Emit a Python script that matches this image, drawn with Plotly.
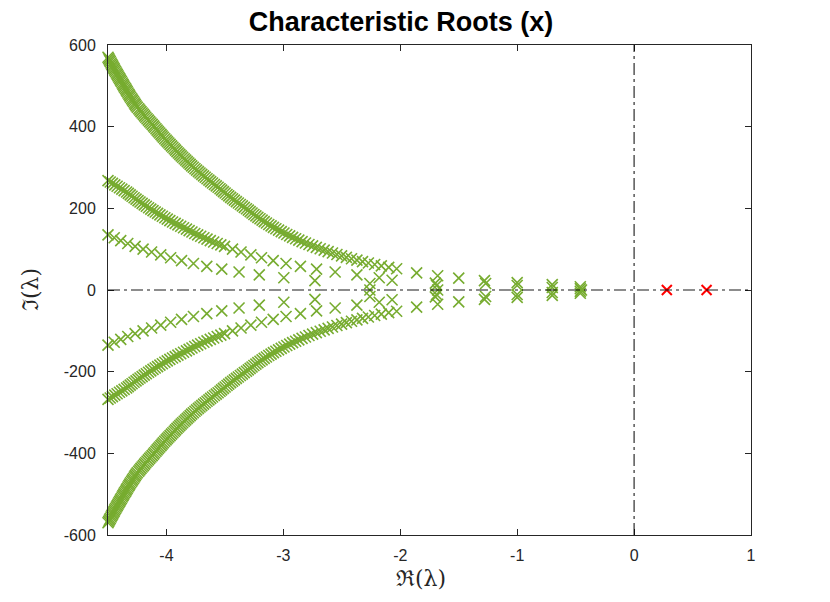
import plotly.graph_objects as go

# ---------------- data ----------------
# outer chain, upper half (real parts / imaginary parts)
outer_re_up = [-4.500, -4.494, -4.487, -4.481, -4.474, -4.468, -4.461, -4.455, -4.448, -4.442,
               -4.435, -4.428, -4.421, -4.414, -4.407, -4.400, -4.393, -4.386, -4.379, -4.372,
               -4.365, -4.358, -4.350, -4.343, -4.336, -4.329, -4.321, -4.314, -4.306, -4.298,
               -4.290, -4.282, -4.274, -4.267, -4.259, -4.249, -4.238, -4.228, -4.218, -4.208,
               -4.197, -4.187, -4.177, -4.166, -4.155, -4.144, -4.133, -4.122, -4.111, -4.101,
               -4.090, -4.080, -4.069, -4.058, -4.047, -4.037, -4.026, -4.015, -4.003, -3.992,
               -3.980, -3.969, -3.957, -3.945, -3.933, -3.922, -3.910, -3.898, -3.886, -3.874,
               -3.861, -3.848, -3.835, -3.822, -3.809, -3.797, -3.784, -3.770, -3.756, -3.742,
               -3.727, -3.713, -3.698, -3.683, -3.668, -3.653, -3.637, -3.622, -3.606, -3.590,
               -3.574, -3.558, -3.542, -3.528, -3.513, -3.498, -3.482, -3.467, -3.451, -3.435,
               -3.419, -3.402, -3.385, -3.368, -3.351, -3.334, -3.316, -3.300, -3.284, -3.268,
               -3.252, -3.235, -3.218, -3.200, -3.182, -3.164, -3.145, -3.125, -3.105, -3.085,
               -3.064, -3.041, -3.018, -2.995, -2.971, -2.946, -2.921, -2.895, -2.868, -2.840,
               -2.811, -2.781, -2.750, -2.718, -2.685, -2.651, -2.617, -2.580, -2.542, -2.502,
               -2.461, -2.417, -2.371, -2.323, -2.273, -2.219, -2.162, -2.099, -2.031,
               -1.86, -1.68, -1.50, -1.28, -1.00, -0.70, -0.46]
outer_im_up = [570, 566.5, 563, 559.5, 556, 552.5, 549, 545.5, 542, 538.5,
               535, 531.5, 528, 524.5, 521, 517.5, 514, 510.5, 507, 503.5,
               500, 496.5, 493, 489.5, 486, 482.5, 479, 475.5, 472, 468.5,
               465, 461.5, 458, 454.5, 451, 447.5, 444, 440.5, 437, 433.5,
               430, 426.5, 423, 419.5, 416, 412.5, 409, 405.5, 402, 398.5,
               395, 391.5, 388, 384.5, 381, 377.5, 374, 370.5, 367, 363.5,
               360, 356.5, 353, 349.5, 346, 342.5, 339, 335.5, 332, 328.5,
               325, 321.5, 318, 314.5, 311, 307.5, 304, 300.5, 297, 293.5,
               290, 286.5, 283, 279.5, 276, 272.5, 269, 265.5, 262, 258.5,
               255, 251.5, 248, 244.5, 241, 237.5, 234, 230.5, 227, 223.5,
               220, 216.5, 213, 209.5, 206, 202.5, 199, 195.5, 192, 188.5,
               185, 181.5, 178, 174.5, 171, 167.5, 164, 160.5, 157, 153.5,
               150, 146.5, 143, 139.5, 136, 132.5, 129, 125.5, 122, 118.5,
               115, 111.5, 108, 104.5, 101, 97.5, 94, 90.5, 87, 83.5,
               80, 76.5, 73, 69.5, 66, 62.5, 59, 55.5, 52,
               42, 35, 29, 23, 18, 13, 8]
# outer chain, lower half
outer_re_lo = outer_re_up
outer_im_lo = [-570, -566.5, -563, -559.5, -556, -552.5, -549, -545.5, -542, -538.5,
               -535, -531.5, -528, -524.5, -521, -517.5, -514, -510.5, -507, -503.5,
               -500, -496.5, -493, -489.5, -486, -482.5, -479, -475.5, -472, -468.5,
               -465, -461.5, -458, -454.5, -451, -447.5, -444, -440.5, -437, -433.5,
               -430, -426.5, -423, -419.5, -416, -412.5, -409, -405.5, -402, -398.5,
               -395, -391.5, -388, -384.5, -381, -377.5, -374, -370.5, -367, -363.5,
               -360, -356.5, -353, -349.5, -346, -342.5, -339, -335.5, -332, -328.5,
               -325, -321.5, -318, -314.5, -311, -307.5, -304, -300.5, -297, -293.5,
               -290, -286.5, -283, -279.5, -276, -272.5, -269, -265.5, -262, -258.5,
               -255, -251.5, -248, -244.5, -241, -237.5, -234, -230.5, -227, -223.5,
               -220, -216.5, -213, -209.5, -206, -202.5, -199, -195.5, -192, -188.5,
               -185, -181.5, -178, -174.5, -171, -167.5, -164, -160.5, -157, -153.5,
               -150, -146.5, -143, -139.5, -136, -132.5, -129, -125.5, -122, -118.5,
               -115, -111.5, -108, -104.5, -101, -97.5, -94, -90.5, -87, -83.5,
               -80, -76.5, -73, -69.5, -66, -62.5, -59, -55.5, -52,
               -42, -35, -29, -23, -18, -13, -8]

# middle chain
middle_re_up = [-4.500, -4.481, -4.462, -4.442, -4.422, -4.402, -4.382, -4.362, -4.341, -4.326,
                -4.310, -4.294, -4.277, -4.260, -4.243, -4.226, -4.208, -4.190, -4.172, -4.153,
                -4.134, -4.115, -4.096, -4.076, -4.056, -4.035, -4.014, -3.993, -3.971, -3.948,
                -3.925, -3.902, -3.878, -3.854, -3.829, -3.806, -3.782, -3.758, -3.733, -3.707,
                -3.680, -3.653, -3.625, -3.596, -3.566, -3.535, -3.503,
                -3.435, -3.362, -3.278, -3.187, -3.087, -2.977,
                -2.854, -2.716, -2.557, -2.371, -2.180,
                -2.07, -1.70, -1.27, -1.00, -0.70, -0.46]
middle_im_up = [268, 264.5, 261, 257.5, 254, 250.5, 247, 243.5, 240, 236.5,
                233, 229.5, 226, 222.5, 219, 215.5, 212, 208.5, 205, 201.5,
                198, 194.5, 191, 187.5, 184, 180.5, 177, 173.5, 170, 166.5,
                163, 159.5, 156, 152.5, 149, 145.5, 142, 138.5, 135, 131.5,
                128, 124.5, 121, 117.5, 114, 110.5, 107,
                100, 93, 86, 79, 72, 65,
                58, 51, 44, 37, 30,
                24, 17, 16, 11, 6, 3]
middle_re_lo = middle_re_up
middle_im_lo = [-268, -264.5, -261, -257.5, -254, -250.5, -247, -243.5, -240, -236.5,
                -233, -229.5, -226, -222.5, -219, -215.5, -212, -208.5, -205, -201.5,
                -198, -194.5, -191, -187.5, -184, -180.5, -177, -173.5, -170, -166.5,
                -163, -159.5, -156, -152.5, -149, -145.5, -142, -138.5, -135, -131.5,
                -128, -124.5, -121, -117.5, -114, -110.5, -107,
                -100, -93, -86, -79, -72, -65,
                -58, -51, -44, -37, -30,
                -24, -17, -16, -11, -6, -3]

# inner chain
inner_re_up = [-4.500, -4.447, -4.391, -4.331, -4.268, -4.200, -4.127, -4.049, -3.964, -3.871,
               -3.769, -3.655, -3.527, -3.379, -3.206, -2.996, -2.730, -2.26, -1.69]
inner_im_up = [135, 128, 121, 114, 107, 100, 93, 86, 79, 72,
               65, 58, 51, 44, 37, 30, 23, 16, 11]
inner_re_lo = inner_re_up
inner_im_lo = [-135, -128, -121, -114, -107, -100, -93, -86, -79, -72,
               -65, -58, -51, -44, -37, -30, -23, -16, -11]

# real stable roots
real_re = [-2.26, -1.68, -0.45]
real_im = [0, 0, 0]

# unstable roots (red)
unstable_re = [0.28, 0.62]
unstable_im = [0, 0]

x_ticks = [-4, -3, -2, -1, 0, 1]
x_tick_labels = ["-4", "-3", "-2", "-1", "0", "1"]
y_ticks = [-600, -400, -200, 0, 200, 400, 600]
y_tick_labels = ["-600", "-400", "-200", "0", "200", "400", "600"]
x_range = [-4.5, 1]
y_range = [-600, 600]

GREEN = "#77AC30"
RED = "#FF0000"
AX = "#262626"

fig = go.Figure()


def add_roots(re, im, color, size, width):
    fig.add_trace(go.Scatter(
        x=re, y=im, mode="markers",
        marker=dict(symbol="x-thin-open", size=size, color=color,
                    line=dict(width=width, color=color)),
        cliponaxis=False, showlegend=False, hoverinfo="skip"))


for re, im in [(outer_re_up, outer_im_up), (outer_re_lo, outer_im_lo),
               (middle_re_up, middle_im_up), (middle_re_lo, middle_im_lo),
               (inner_re_up, inner_im_up), (inner_re_lo, inner_im_lo),
               (real_re, real_im)]:
    add_roots(re, im, GREEN, 11, 1.6)

add_roots(unstable_re, unstable_im, RED, 10, 2)

dashdot = "12px,4px,3px,4px"
fig.add_shape(type="line", xref="paper", yref="y", x0=0, x1=1, y0=0, y1=0,
              line=dict(color="rgba(0,0,0,0.6)", width=1.5, dash=dashdot), layer="above")
fig.add_shape(type="line", xref="x", yref="paper", x0=0, x1=0, y0=0, y1=1,
              line=dict(color="rgba(0,0,0,1)", width=1, dash=dashdot), layer="above")

axis_common = dict(showline=True, linecolor=AX, linewidth=1, mirror="ticks",
                   ticks="inside", ticklen=6, tickwidth=1, tickcolor=AX,
                   showgrid=False, zeroline=False,
                   tickfont=dict(family="Liberation Sans, Arial", size=16, color=AX))

fig.update_xaxes(range=x_range, tickvals=x_ticks, ticktext=x_tick_labels,
                 ticklabelstandoff=6, **axis_common)
fig.update_yaxes(range=y_range, tickvals=y_ticks, ticktext=y_tick_labels,
                 ticklabelstandoff=8, **axis_common)

# the page adds an 8px body margin, so the figure is 8px smaller and offset
W, H = 822, 594
fig.update_layout(
    width=W, height=H,
    margin=dict(l=100, r=79, t=37, b=67),
    paper_bgcolor="white", plot_bgcolor="white",
    title=dict(text="<b>Characteristic Roots (x)</b>", x=(401 - 8) / W, xanchor="center",
               y=1 - (22 - 8) / H, yanchor="middle",
               font=dict(family="Liberation Sans, Arial", size=27, color="black")),
    annotations=[
        dict(text="ℜ(λ)", xref="paper", yref="paper", x=(421 - 108) / 643, y=-43 / 490,
             xanchor="center", yanchor="middle", showarrow=False,
             font=dict(family="DejaVu Serif", size=22, color=AX)),
        dict(text="ℑ(λ)", xref="paper", yref="paper", x=-78 / 643, y=0.5,
             xanchor="center", yanchor="middle", showarrow=False, textangle=-90,
             font=dict(family="DejaVu Serif", size=22, color=AX)),
    ],
)

fig.write_html("out.html")
